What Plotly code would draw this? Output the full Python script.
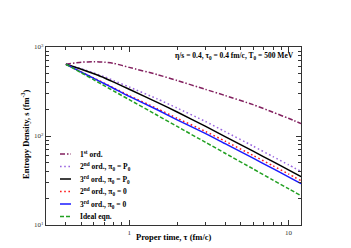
import plotly.graph_objects as go

# ---------------- data ----------------
tau = [0.4, 0.5, 0.6, 0.7, 0.8, 1.0, 1.5, 2.0, 3.0, 4.0, 6.0, 8.0, 10.0, 12.0]

s_first = [640, 675, 682, 675, 655, 590, 490, 420, 335, 285, 225, 185, 158, 138]
s_second_P0 = [640, 569, 510, 462, 419, 355, 261, 206, 146, 112, 77, 58.7, 47.5, 40]
s_third_P0 = [640, 563, 500, 449, 403, 335, 239, 186, 129, 98.6, 67.5, 51.5, 41.7, 35]
s_second_0 = [640, 524, 448, 391, 347, 284, 203, 158, 113, 87.5, 60.5, 46.2, 37.5, 31.5]
s_third_0 = [640, 522, 444, 386, 342, 279, 197, 152, 107, 82, 56.4, 42.9, 34.8, 29.2]
s_ideal = [640, 512, 427, 366, 320, 256, 171, 128, 85.3, 64, 42.7, 32, 25.6, 21.3]

labels = [
    "1<sup>st</sup> ord.",
    "2<sup>nd</sup> ord., π<sub>0</sub> = P<sub>0</sub>",
    "3<sup>rd</sup> ord., π<sub>0</sub> = P<sub>0</sub>",
    "2<sup>nd</sup> ord., π<sub>0</sub> = 0",
    "3<sup>rd</sup> ord., π<sub>0</sub> = 0",
    "Ideal eqn.",
]

x_tickvals = [1, 10]
x_ticktext = ["1", "10"]
x_minor = [0.4, 0.5, 0.6, 0.7, 0.8, 0.9, 2, 3, 4, 5, 6, 7, 8, 9]
y_tickvals = [10, 100, 1000]
y_ticktext = ["10<sup>1</sup>", "10<sup>2</sup>", "10<sup>3</sup>"]
y_minor = [20, 30, 40, 50, 60, 70, 80, 90, 200, 300, 400, 500, 600, 700, 800, 900]

title_text = "η/s = 0.4, τ<sub>0</sub> = 0.4 fm/c, T<sub>0</sub> = 500 MeV"
xtitle = "Proper time, τ (fm/c)"
ytitle = "Entropy Density, s (fm<sup>-3</sup>)"

# ---------------- styles ----------------
series = [s_first, s_second_P0, s_third_P0, s_second_0, s_third_0, s_ideal]
colors = ["#82205f", "#9a66e0", "#000000", "#ff1a1a", "#1a1aff", "#22a022"]
dashes = ["5px,2px,1.5px,2px", "1.6px,2.6px", "solid", "1.6px,2.6px", "solid", "4px,2px"]

FONT = "Liberation Serif"

fig = go.Figure()
for ys, c, d, lab in zip(series, colors, dashes, labels):
    fig.add_trace(go.Scatter(x=tau, y=ys, mode="lines", name=lab,
                             line=dict(color=c, width=1.5, dash=d, shape="spline", smoothing=0.6),
                             showlegend=False, hoverinfo="skip"))

# manual legend (plot-area paper coordinates)
L, R, T, B = 38, 293, 39, 217
W, H = R - L, B - T
def px(x):
    return (x - L) / W
def py(y):
    return (B - y) / H

row_y = [146, 158.5, 171, 183.5, 196, 208.5]
shapes = []
annotations = []
for yy, c, d, lab in zip(row_y, colors, dashes, labels):
    shapes.append(dict(type="line", xref="paper", yref="paper",
                       x0=px(52), x1=px(63), y0=py(yy), y1=py(yy),
                       line=dict(color=c, width=1.5, dash=d)))
    annotations.append(dict(xref="paper", yref="paper", x=px(70), y=py(yy),
                            xanchor="left", yanchor="middle", showarrow=False,
                            text=lab, font=dict(family=FONT, size=7.5, color="black", weight="bold")))

annotations.append(dict(xref="paper", yref="paper", x=px(288), y=py(48),
                        xanchor="right", yanchor="middle", showarrow=False,
                        text=title_text, font=dict(family=FONT, size=7.5, color="black", weight="bold")))
annotations.append(dict(xref="paper", yref="paper", x=0.5, y=py(229),
                        xanchor="center", yanchor="middle", showarrow=False,
                        text=xtitle, font=dict(family=FONT, size=8.5, color="black", weight="bold")))
annotations.append(dict(xref="paper", yref="paper", x=px(17), y=py(126),
                        xanchor="center", yanchor="middle", showarrow=False, textangle=-90,
                        text=ytitle, font=dict(family=FONT, size=8.5, color="black", weight="bold")))

axis_common = dict(showline=True, linecolor="#333333", linewidth=1.2, mirror="ticks",
                   ticks="inside", ticklen=5, tickwidth=1, tickcolor="#333333",
                   showgrid=False, zeroline=False,
                   tickfont=dict(family=FONT, size=7, color="#333333"))

fig.update_xaxes(type="log", range=[-0.523, 1.079], tickmode="array",
                 tickvals=x_tickvals, ticktext=x_ticktext,
                 minor=dict(ticks="inside", ticklen=2.5, tickwidth=1, tickcolor="#333333",
                            tickmode="array", tickvals=x_minor, showgrid=False),
                 **axis_common)
fig.update_yaxes(type="log", range=[1, 3], tickmode="array",
                 tickvals=y_tickvals, ticktext=y_ticktext,
                 minor=dict(ticks="inside", ticklen=2.5, tickwidth=1, tickcolor="#333333",
                            tickmode="array", tickvals=y_minor, showgrid=False),
                 **axis_common)

fig.update_layout(width=351, height=248,
                  margin=dict(l=L, r=351 - R, t=T, b=248 - B, pad=0),
                  paper_bgcolor="white", plot_bgcolor="white",
                  shapes=shapes, annotations=annotations)

fig.write_html("out.html")
